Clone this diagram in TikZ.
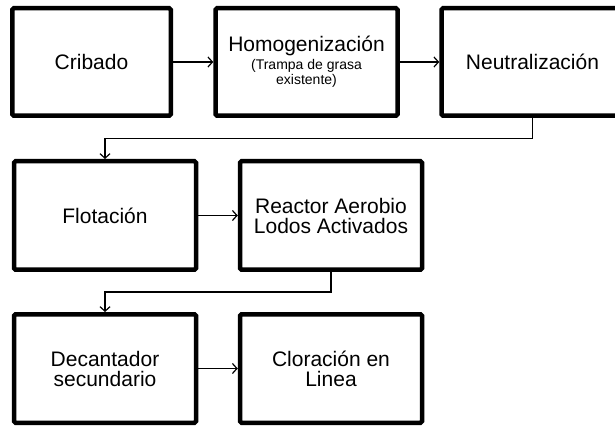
\documentclass[tikz,border=0pt]{standalone}
\usepackage{fontspec}
\setmainfont{Liberation Sans}
\usetikzlibrary{arrows.meta,shadows,positioning}

\newcommand{\smalltxt}{\fontsize{14}{12.5}\selectfont}

\begin{document}
\begin{tikzpicture}[x=1pt,y=1pt,>={Straight Barb[length=4.5pt,width=10pt]},->,line width=1.2pt,
proc/.style={draw, line width=4.5pt, rounded corners=1.5pt, fill=white,
  minimum width=182pt, minimum height=108.5pt, align=center,
  font=\fontsize{21}{20}\selectfont,
  drop shadow={shadow xshift=1.5pt, shadow yshift=-1.5pt, opacity=.25}}]
\useasboundingbox (0,0) rectangle (615,-427);
% fila superior
\node[proc, minimum width=158.5pt, minimum height=107.5pt] (crib) at (91.5,-62) {Cribado};
\node[proc, minimum height=107.5pt] (homo) at (306.5,-62)
  {Homogenización\\[-2pt]\smalltxt (Trampa de grasa\\[-5pt]\smalltxt existente)};
\node[proc, minimum height=107.5pt] (neut) at (532.5,-62) {Neutralización};
% fila central
\node[proc] (flot) at (105,-215.5) {Flotación};
\node[proc] (reac) at (331,-215.5) {Reactor Aerobio\\Lodos Activados};
% fila inferior
\node[proc] (deca) at (105,-368.5) {Decantador\\secundario};
\node[proc] (clor) at (331,-368.5) {Cloración en\\Linea};

\draw (crib) -- (homo);
\draw (homo) -- (neut);
\draw (neut.south) -- ++(0,-20.5pt) -| (flot.north);
\draw (flot) -- (reac);
\draw (reac.south) -- ++(0,-20pt) -| (deca.north);
\draw (deca) -- (clor);
\end{tikzpicture}
\end{document}
